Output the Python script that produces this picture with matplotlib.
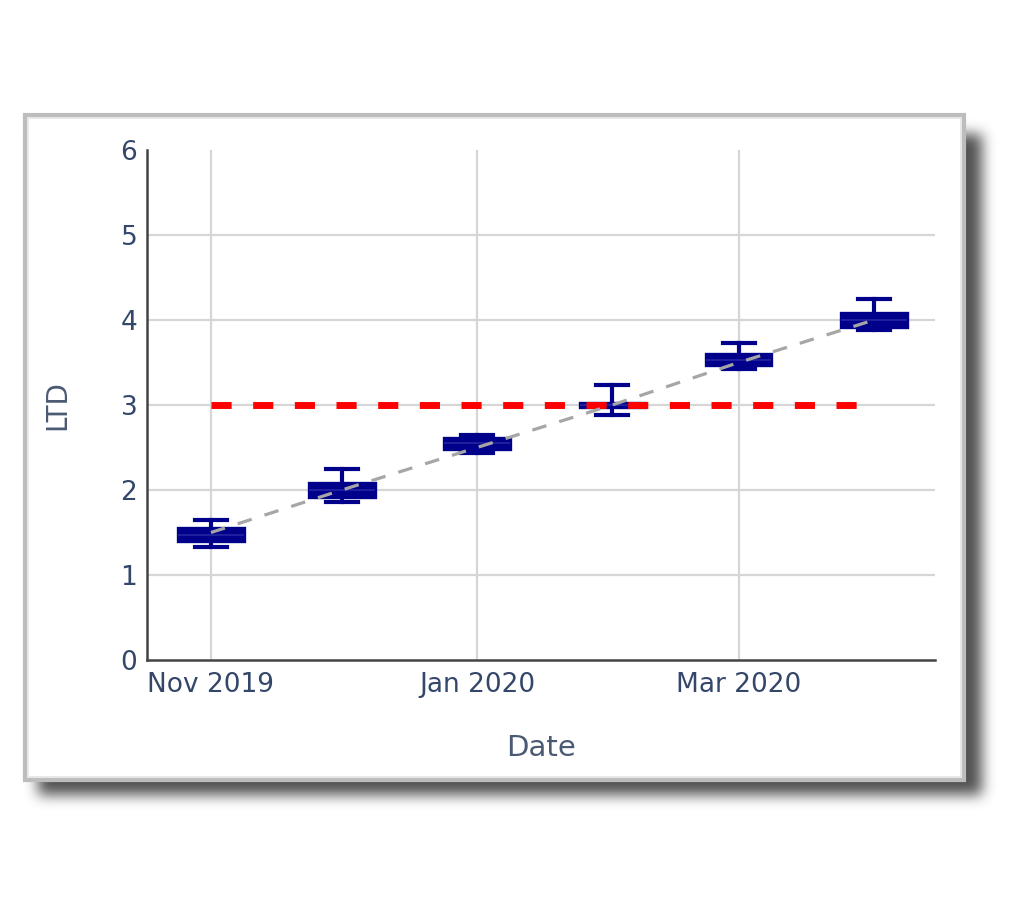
#!/usr/bin/env python3
"""LTD box plots per month with trend and threshold, inside a framed panel."""
from datetime import datetime

import numpy as np
import matplotlib
matplotlib.use("Agg")
import matplotlib.pyplot as plt
import matplotlib.dates as mdates
from matplotlib.patches import Rectangle

# --- data ------------------------------------------------------------------
months = [datetime(2019, 11, 1), datetime(2019, 12, 1), datetime(2020, 1, 1),
          datetime(2020, 2, 1), datetime(2020, 3, 1), datetime(2020, 4, 1)]
whislo = [1.33, 1.86, 2.43, 2.88, 3.42, 3.88]
q1 = [1.40, 1.92, 2.48, 2.98, 3.47, 3.92]
med = [1.47, 2.00, 2.55, 3.00, 3.53, 4.00]
q3 = [1.55, 2.08, 2.61, 3.02, 3.60, 4.08]
whishi = [1.65, 2.25, 2.65, 3.24, 3.73, 4.25]
trend = [1.5, 2.0, 2.5, 3.0, 3.5, 4.0]
threshold = 3.0
tick_dates = [datetime(2019, 11, 1), datetime(2020, 1, 1), datetime(2020, 3, 1)]
tick_labels = ["Nov 2019", "Jan 2020", "Mar 2020"]
x_range = (datetime(2019, 10, 17, 8), datetime(2020, 4, 15))

W, H = 1017, 924
TXT = "#34476a"


def _box_blur(a: np.ndarray, r: int) -> np.ndarray:
    for axis in (0, 1):
        c = np.cumsum(np.pad(a, [(r + 1, r) if i == axis else (0, 0)
                                 for i in range(2)], mode="edge"), axis=axis)
        if axis == 0:
            a = (c[2 * r + 1:, :] - c[:-2 * r - 1, :]) / (2 * r + 1)
        else:
            a = (c[:, 2 * r + 1:] - c[:, :-2 * r - 1]) / (2 * r + 1)
    return a


fig = plt.figure(figsize=(W / 100, H / 100), dpi=100)
fig.patch.set_facecolor("white")

# background: drop shadow + framed panel
bg = fig.add_axes([0, 0, 1, 1])
bg.set_xlim(0, W)
bg.set_ylim(H, 0)
bg.axis("off")
mask = np.zeros((H, W))
mask[134:795, 38:982] = 1.0
for _ in range(3):
    mask = _box_blur(mask, 6)
shadow = np.zeros((H, W, 4))
shadow[..., :3] = 0.32
shadow[..., 3] = mask
bg.imshow(shadow, extent=(0, W, H, 0), zorder=0, interpolation="bilinear")
bg.add_patch(Rectangle((25, 115), 939, 665, facecolor="white",
                       edgecolor="#bdbdbd", lw=3, zorder=1))
bg.add_patch(Rectangle((28, 118), 933, 659, facecolor="none",
                       edgecolor="#e4e4e4", lw=1.2, zorder=1))
bg.set_xlim(0, W)
bg.set_ylim(H, 0)

# main plot
ax = fig.add_axes([147 / W, 1 - 660 / H, 788 / W, 510 / H])
ax.set_facecolor("none")

pos = mdates.date2num(months)
stats = [dict(med=m, q1=a, q3=b, whislo=lo, whishi=hi, fliers=[])
         for m, a, b, lo, hi in zip(med, q1, q3, whislo, whishi)]
navy = "#00008b"
ax.bxp(stats, positions=pos, widths=15.0, capwidths=7.4, patch_artist=True,
       manage_ticks=False,
       boxprops=dict(facecolor=navy, edgecolor=navy, lw=2.4),
       whiskerprops=dict(color=navy, lw=3.0),
       capprops=dict(color=navy, lw=3.0),
       medianprops=dict(color="#2626a3", lw=1.2),
       zorder=2)

ax.plot([pos[0], pos[-1]], [threshold, threshold], color="#ff0000", lw=5,
        dashes=(2.9, 3.1), zorder=3)
ax.plot(pos, trend, color="#a6a6a6", lw=2.3, dashes=(4.6, 4.2), zorder=4)

ax.set_xlim(mdates.date2num(x_range[0]), mdates.date2num(x_range[1]))
ax.set_ylim(0, 6)
ax.set_xticks(mdates.date2num(tick_dates))
ax.set_xticklabels(tick_labels)
ax.set_yticks(range(0, 7))
ax.tick_params(length=0, labelsize=19, colors=TXT)
ax.tick_params(axis="x", pad=9)
ax.tick_params(axis="y", pad=7)

ax.grid(True, color="#d6d6d6", lw=1.6, zorder=0)
ax.set_axisbelow(True)
for gl in (ax.yaxis.get_gridlines()[0], ax.yaxis.get_gridlines()[-1]):
    gl.set_visible(False)

for side in ("top", "right"):
    ax.spines[side].set_visible(False)
for side in ("left", "bottom"):
    ax.spines[side].set_color("#444444")
    ax.spines[side].set_linewidth(1.8)

ax.set_xlabel("Date", fontsize=21, color="#4b5a73", va="center")
ax.xaxis.set_label_coords(0.5, -(748 - 660) / 510)
ax.set_ylabel("LTD", fontsize=20, color="#4b5a73", va="center", ha="center")
ax.yaxis.set_label_coords(-(147 - 57) / 788, 0.5)

fig.savefig("out.png", dpi=100)
